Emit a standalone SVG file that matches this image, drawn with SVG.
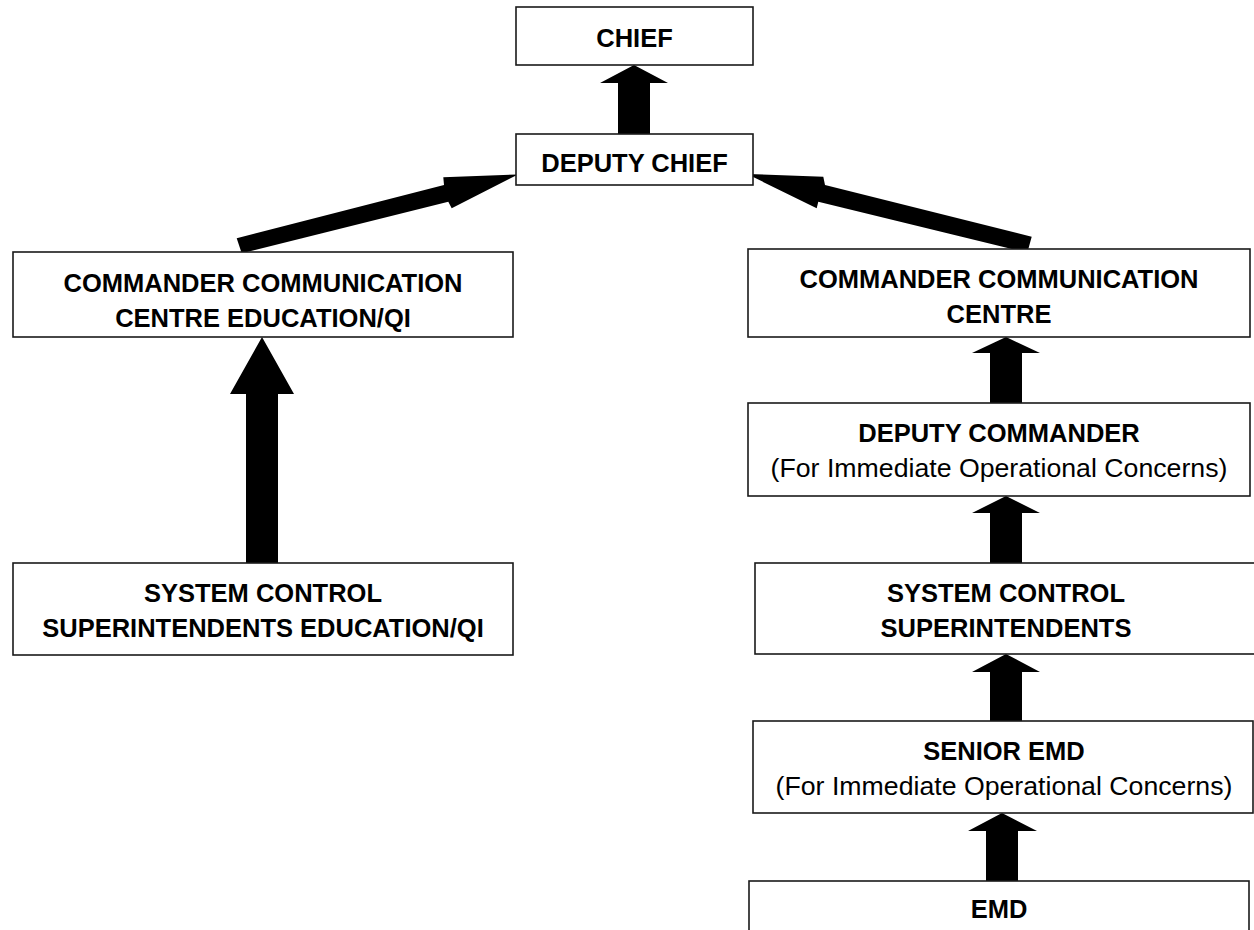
<svg xmlns="http://www.w3.org/2000/svg" width="1254" height="930" viewBox="0 0 1254 930">
<style>
.box{fill:#fff;stroke:#1a1a1a;stroke-width:1.6}
.b{font-family:"Liberation Sans",Arial,sans-serif;font-weight:bold;font-size:25.5px;fill:#000;text-anchor:middle}
.r{font-family:"Liberation Sans",Arial,sans-serif;font-size:26.7px;fill:#000;text-anchor:middle}
.arr{fill:#000;stroke:none}
</style>
<rect width="1254" height="930" fill="#fff"/>
<g id="connectors">
<polygon class="arr" points="618,134 618,83 600,83 634,65 668,83 650,83 650,134"/>
<polygon class="arr" points="236.7,238.3 444,185 443.3,177.3 518,174.5 451.7,208.3 448.3,201.7 241.7,253.3"/>
<polygon class="arr" points="1031.7,236.7 825,185 823.3,176.7 747,174 816.7,208.3 818.3,201.7 1027.3,252.7"/>
<polygon class="arr" points="246,563 246,394 230,394 262,337 294,394 278,394 278,563"/>
<polygon class="arr" points="990,403 990,353 972,353 1006,337 1040,353 1022,353 1022,403"/>
<polygon class="arr" points="990,563 990,513 972,513 1006,496 1040,513 1022,513 1022,563"/>
<polygon class="arr" points="990,721 990,672 972,672 1006,654 1040,672 1022,672 1022,721"/>
<polygon class="arr" points="986,881 986,831 968,831 1002,813 1037,831 1018,831 1018,881"/>
</g>
<g id="chief">
<rect class="box" x="516" y="7" width="237" height="58"/>
<text class="b" x="634.5" y="47">CHIEF</text>
</g>
<g id="deputy-chief">
<rect class="box" x="516" y="134" width="237" height="51"/>
<text class="b" x="634.5" y="172">DEPUTY CHIEF</text>
</g>
<g id="commander-education">
<rect class="box" x="13" y="252" width="500" height="85"/>
<text class="b" x="263" y="292">COMMANDER COMMUNICATION</text>
<text class="b" x="263" y="327">CENTRE EDUCATION/QI</text>
</g>
<g id="superintendents-education">
<rect class="box" x="13" y="563" width="500" height="92"/>
<text class="b" x="263" y="602">SYSTEM CONTROL</text>
<text class="b" x="263" y="637">SUPERINTENDENTS EDUCATION/QI</text>
</g>
<g id="commander-centre">
<rect class="box" x="748" y="249" width="502" height="88"/>
<text class="b" x="999" y="288">COMMANDER COMMUNICATION</text>
<text class="b" x="999" y="323">CENTRE</text>
</g>
<g id="deputy-commander">
<rect class="box" x="748" y="403" width="502" height="93"/>
<text class="b" x="999" y="442">DEPUTY COMMANDER</text>
<text class="r" x="999" y="477">(For Immediate Operational Concerns)</text>
</g>
<g id="superintendents">
<rect class="box" x="755" y="563" width="505" height="91"/>
<text class="b" x="1006" y="602">SYSTEM CONTROL</text>
<text class="b" x="1006" y="637">SUPERINTENDENTS</text>
</g>
<g id="senior-emd">
<rect class="box" x="753" y="721" width="500" height="92"/>
<text class="b" x="1004" y="760">SENIOR EMD</text>
<text class="r" x="1004" y="795">(For Immediate Operational Concerns)</text>
</g>
<g id="emd">
<rect class="box" x="749" y="881" width="500" height="60"/>
<text class="b" x="999" y="918">EMD</text>
</g>
</svg>
